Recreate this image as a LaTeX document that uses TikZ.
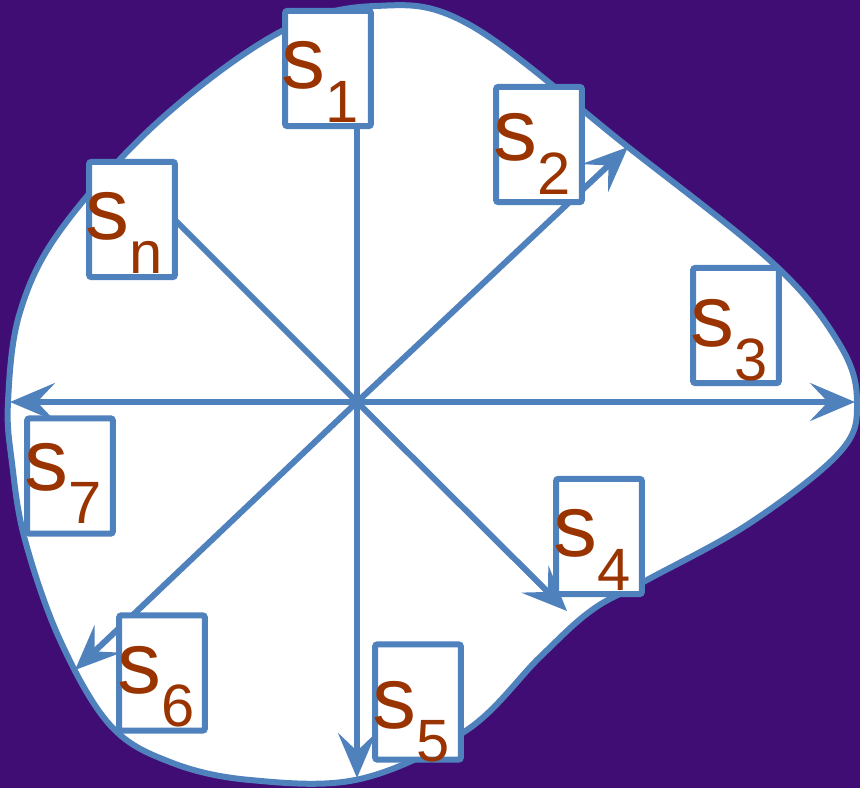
\documentclass[tikz,border=0pt]{standalone}
\usepackage{fontspec}
\setmainfont{Liberation Sans}
\usetikzlibrary{arrows.meta}
\definecolor{bgpurple}{HTML}{400D74}
\definecolor{edgeblue}{HTML}{4F81BD}
\definecolor{labelred}{HTML}{993300}
\newcommand{\sublbl}[1]{s\raisebox{-19pt}{\fontsize{34}{34}\selectfont #1}}

\begin{document}
\begin{tikzpicture}[x=0.02cm,y=-0.02cm,
		ray/.style={draw=edgeblue,line width=0.12cm},
		tipped/.style={ray,-{Stealth[length=0.9cm,width=0.76cm,inset=0.36cm]}},
		sbox/.style={draw=edgeblue,fill=white,line width=0.12cm,rounded corners=1.5pt,minimum width=1.72cm,minimum height=2.31cm,inner sep=0pt},
		slabel/.style={text=labelred,font=\fontsize{50}{50}\selectfont,inner sep=0pt,anchor=base west}]
		\useasboundingbox (0,0) rectangle (860,788);
		\fill[bgpurple] (0,0) rectangle (860,788);
		% region
		\draw[edgeblue,line width=0.12cm,fill=white] plot[smooth cycle,tension=0.6] coordinates {
			(8,402) (20,312) (62,228) (160,120) (280,32) (375,6) (470,25) (628,147)
			(775,265) (840,345) (857,402) (840,452) (750,523) (647,580) (592,610)
			(540,657) (467,730) (360,779) (250,780) (170,762) (110,725) (60,640)
			(25,540) (12,463)};
		% centre and ends of the rays
		\coordinate (C) at (357,402);
		\coordinate (N) at (357,60);
		\coordinate (NE) at (628,147);
		\coordinate (E) at (855,402);
		\coordinate (SE) at (567,611);
		\coordinate (S) at (357,778);
		\coordinate (SW) at (75,670);
		\coordinate (W) at (10,402);
		\coordinate (NW) at (160,205);
		\draw[ray] (C) -- (N);
		\draw[tipped] (C) -- (NE);
		\draw[tipped] (C) -- (E);
		\draw[tipped] (C) -- (SE);
		\draw[tipped] (C) -- (S);
		\draw[tipped] (C) -- (SW);
		\draw[tipped] (C) -- (W);
		\draw[ray] (C) -- (NW);
		% boxes
		\node[sbox] (S1) at (328,68.5) {};
		\node[sbox] (S2) at (539,144.5) {};
		\node[sbox] (S3) at (736,325.5) {};
		\node[sbox] (S4) at (599,536.5) {};
		\node[sbox] (S5) at (418,702) {};
		\node[sbox] (S6) at (162,673) {};
		\node[sbox] (S7) at (70,476) {};
		\node[sbox] (Sn) at (132,219.5) {};
		\node[slabel] (L1) at ([shift={(-1,81)}]S1.north west) {\sublbl{1}};
		\node[slabel] (L2) at ([shift={(0,77)}]S2.north west) {\sublbl{2}};
		\node[slabel] (L3) at ([shift={(0,82)}]S3.north west) {\sublbl{3}};
		\node[slabel] (L4) at ([shift={(0,81)}]S4.north west) {\sublbl{4}};
		\node[slabel] (L5) at ([shift={(0,87)}]S5.north west) {\sublbl{5}};
		\node[slabel] (L6) at ([shift={(1,81)}]S6.north west) {\sublbl{6}};
		\node[slabel] (L7) at ([shift={(0,75)}]S7.north west) {\sublbl{7}};
		\node[slabel] (Ln) at ([shift={(-1,81)}]Sn.north west) {\sublbl{n}};
	\end{tikzpicture}
\end{document}
